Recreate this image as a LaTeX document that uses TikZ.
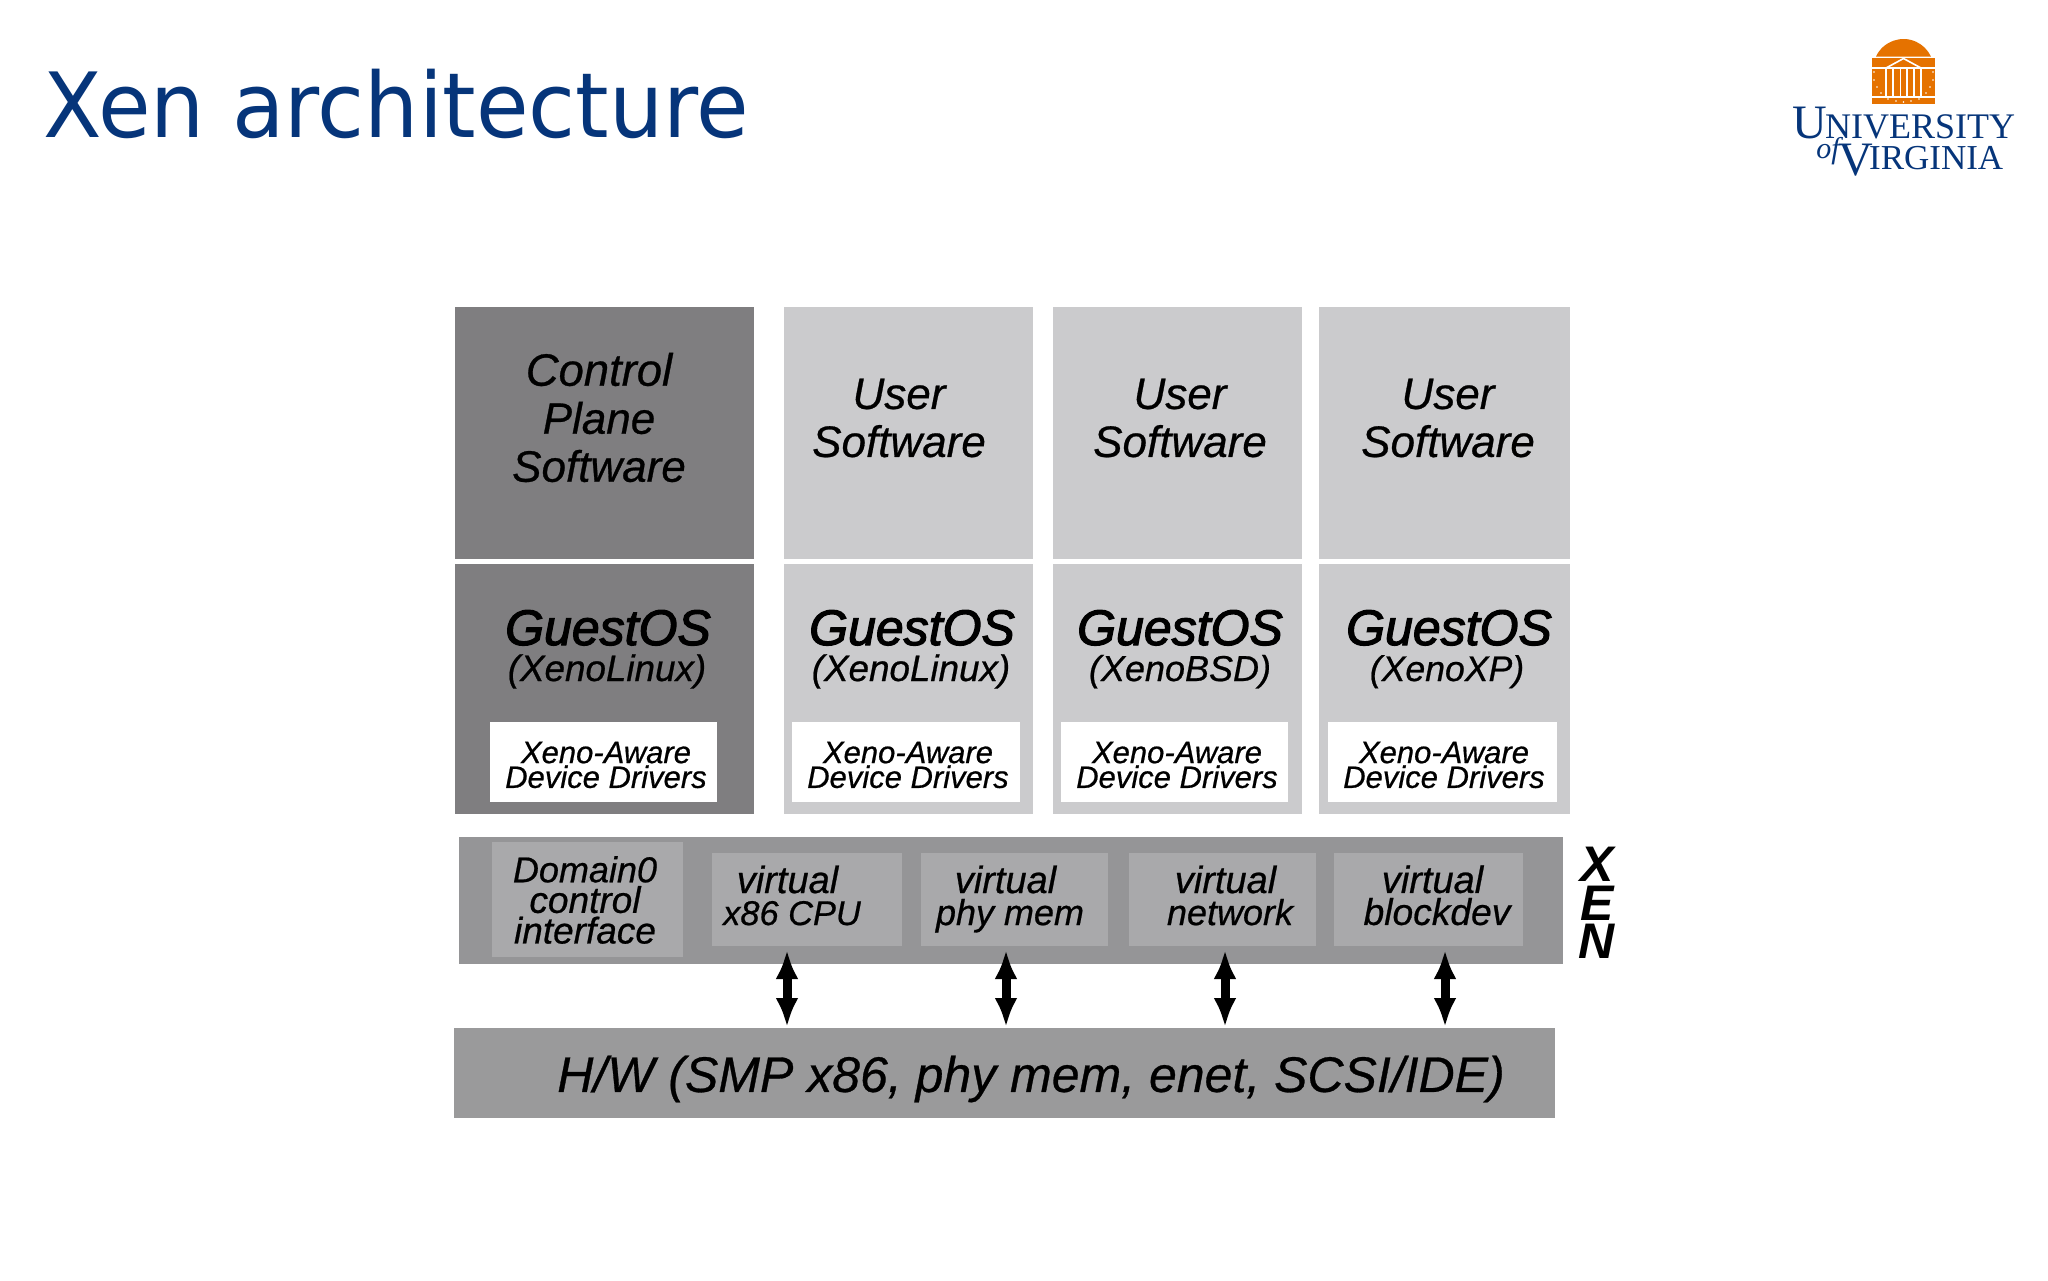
\documentclass[tikz,border=0pt]{standalone}
\usepackage{fontspec}
\usetikzlibrary{arrows.meta}
\setmainfont{Liberation Sans}[ItalicFeatures={FakeBold=0.6}]
\newfontfamily\guestfont{Liberation Sans}[ItalicFeatures={FakeBold=2.4}]
\newfontfamily\titlefont{DejaVu Sans}
\newfontfamily\logofont{Liberation Serif}
\definecolor{darkbox}{HTML}{7F7E80}
\definecolor{lightbox}{HTML}{CBCBCD}
\definecolor{xenbar}{HTML}{959597}
\definecolor{xeninner}{HTML}{A9A9AB}
\definecolor{hwbar}{HTML}{9A9A9B}
\definecolor{titleblue}{HTML}{06357A}
\definecolor{uvaorange}{HTML}{E57200}
\newcommand{\pxbox}[6]{%
  \pgfmathsetmacro{\mycx}{(#2+#4)/2}\pgfmathsetmacro{\mycy}{(#3+#5)/2}%
  \pgfmathsetmacro{\mywd}{(#4-#2)*0.5}\pgfmathsetmacro{\myht}{(#5-#3)*0.5}%
  \node[boxbase,#6,minimum width=\mywd pt,minimum height=\myht pt] (#1) at (\mycx,\mycy) {};}
\newcommand{\fpx}[2]{\fontsize{#1}{#2}\selectfont}
\newcommand{\virt}{{\fpx{19}{16}virtual}\hspace*{4.5pt}}
\tikzset{
  boxbase/.style={rectangle,inner sep=0pt,outer sep=0pt,draw=none},
  labelbase/.style={inner sep=0pt,outer sep=0pt,align=center,text=black},
  soft/.style={labelbase,font=\itshape\fpx{22}{24}},
  guest/.style={labelbase,font=\guestfont\itshape\fpx{25}{26}},
  guestsub/.style={labelbase,font=\itshape\fpx{18.4}{20}},
  driver/.style={labelbase,font=\itshape\fpx{15.5}{11}},
  xenlabel/.style={labelbase,font=\itshape\fpx{18}{16}},
  hwlabel/.style={labelbase,font=\itshape\fpx{25}{26}},
  duplex/.style={line width=4.5pt,{Latex[length=14.5pt,width=11.5pt]}-{Latex[length=14.5pt,width=11.5pt]},black}
}
\begin{document}
\begin{tikzpicture}[x=0.5pt,y=-0.5pt]
\useasboundingbox (0,0) rectangle (2048,1280);
\fill[white] (0,0) rectangle (2048,1280);
% title
\node[inner sep=0pt,anchor=base west,text=titleblue,font=\titlefont\fpx{45}{50}] (title) at (43,137) {\scalebox{0.95}[1]{Xen architecture}};
% logo
\fill[uvaorange] (1876,56.5) arc[start angle=-155,end angle=-25,radius=30.3] -- cycle;
\fill[uvaorange] (1872,58) rectangle (1935,104);
\draw[white,line width=0.7pt] (1872,68) -- (1886,68) (1921,68) -- (1935,68);
\draw[white,line width=0.8pt] (1886,68) -- (1903.5,58.5) -- (1921,68) -- cycle;
\foreach \lx in {1886,1893,1900.5,1907,1914,1921}{\draw[white,line width=0.8pt] (\lx,68) -- (\lx,97);}
\draw[white,line width=0.8pt] (1872,97) -- (1935,97);
\foreach \dx/\dy in {1874/72,1874/80,1877/87,1881/93,1888/99,1896/101,1903.5/102,1911/101,1919/99,1926/93,1930/87,1933/80,1933/72}{\fill[white] (\dx,\dy) circle[radius=0.9];}
\node[inner sep=0pt,anchor=base west,text=titleblue,font=\logofont] (univ) at (1792,138) {\fpx{24}{26}U\kern-1pt\fpx{18}{20}NIVERSITY};
\node[inner sep=0pt,anchor=base west,text=titleblue,font=\logofont] (virg) at (1838,169) {\fpx{24}{26}\raisebox{-3pt}{V}\kern-2pt\fpx{17.5}{20}IRGINIA};
\node[inner sep=0pt,anchor=base west,text=titleblue,font=\logofont\itshape\fpx{15}{20}] (ofw) at (1816,158) {of};
% top row
\pxbox{ctrlsw}{454.5}{307}{753.6}{559}{fill=darkbox}
\pxbox{usera}{783.7}{307}{1033}{559}{fill=lightbox}
\pxbox{userb}{1052.7}{307}{1302}{559}{fill=lightbox}
\pxbox{userc}{1319}{307}{1570}{559}{fill=lightbox}
% guest row
\pxbox{guest0}{454.5}{564}{753.6}{814}{fill=darkbox}
\pxbox{guesta}{783.7}{564}{1033}{814}{fill=lightbox}
\pxbox{guestb}{1052.7}{564}{1302}{814}{fill=lightbox}
\pxbox{guestc}{1319}{564}{1570}{814}{fill=lightbox}
% drivers
\pxbox{drv0}{490}{722}{717}{802}{fill=white}
\pxbox{drva}{791.5}{722}{1020}{802}{fill=white}
\pxbox{drvb}{1060.5}{722}{1288}{802}{fill=white}
\pxbox{drvc}{1328}{722}{1557}{802}{fill=white}
% xen
\pxbox{xen}{459}{837}{1563}{964}{fill=xenbar}
\pxbox{dom0}{492}{842}{683}{957}{fill=xeninner}
\pxbox{vcpu}{712}{853}{902}{946}{fill=xeninner}
\pxbox{vmem}{920.6}{853}{1108}{946}{fill=xeninner}
\pxbox{vnet}{1129}{853}{1316}{946}{fill=xeninner}
\pxbox{vblk}{1334}{853}{1523}{946}{fill=xeninner}
\pxbox{hw}{454}{1028}{1555}{1118}{fill=hwbar}
% labels
\node[soft] (tctrl) at (599,417.5) {{\fpx{22.7}{24}Control}\\Plane\\Software};
\node[soft] (tusra) at (899,418) {User\\Software};
\node[soft] (tusrb) at (1180,418) {User\\Software};
\node[soft] (tusrc) at (1448,418) {User\\Software};
\node[guest,anchor=base] (tg0) at (608,645) {GuestOS};
\node[guest,anchor=base] (tga) at (912,645) {GuestOS};
\node[guest,anchor=base] (tgb) at (1180,645) {GuestOS};
\node[guest,anchor=base] (tgc) at (1449,645) {GuestOS};
\node[guestsub,anchor=base] (ts0) at (607,681) {(XenoLinux)};
\node[guestsub,anchor=base] (tsa) at (911,681) {(XenoLinux)};
\node[guestsub,anchor=base,font=\itshape\fpx{18}{20}] (tsb) at (1180,681) {(XenoBSD)};
\node[guestsub,anchor=base,font=\itshape\fpx{17.8}{20}] (tsc) at (1447,681) {(XenoXP)};
\node[driver] (td0) at (606,765) {Xeno-Aware\\Device Drivers};
\node[driver] (tda) at (908,765) {Xeno-Aware\\Device Drivers};
\node[driver] (tdb) at (1177,765) {Xeno-Aware\\Device Drivers};
\node[driver] (tdc) at (1444,765) {Xeno-Aware\\Device Drivers};
\node[xenlabel,font=\itshape\fpx{18.5}{15.3}] (tdom) at (585,900) {{\fpx{18}{15.3}Domain0}\\control\\interface};
\node[xenlabel] (tcpu) at (792,899) {\virt\\{\fpx{17.2}{16}x86 CPU}\vphantom{py}};
\node[xenlabel] (tmem) at (1010,899) {\virt\\phy mem\vphantom{py}};
\node[xenlabel] (tnet) at (1230,899) {\virt\\network\vphantom{py}};
\node[xenlabel,font=\itshape\fpx{18.6}{16}] (tblk) at (1437,899) {\virt\\blockdev\vphantom{py}};
\node[hwlabel] (thw) at (1031,1079) {H/W (SMP x86, phy mem, enet, SCSI/IDE)};
\node[labelbase,font=\bfseries\itshape\fpx{25}{19.3}] (txen) at (1597,903) {X\\E\\N};
% arrows
\coordinate (a1t) at (787,950); \coordinate (a1b) at (787,1027);
\coordinate (a2t) at (1006,950); \coordinate (a2b) at (1006,1027);
\coordinate (a3t) at (1225,950); \coordinate (a3b) at (1225,1027);
\coordinate (a4t) at (1445,950); \coordinate (a4b) at (1445,1027);
\draw[duplex] (a1t) -- (a1b);
\draw[duplex] (a2t) -- (a2b);
\draw[duplex] (a3t) -- (a3b);
\draw[duplex] (a4t) -- (a4b);
\end{tikzpicture}
\end{document}
